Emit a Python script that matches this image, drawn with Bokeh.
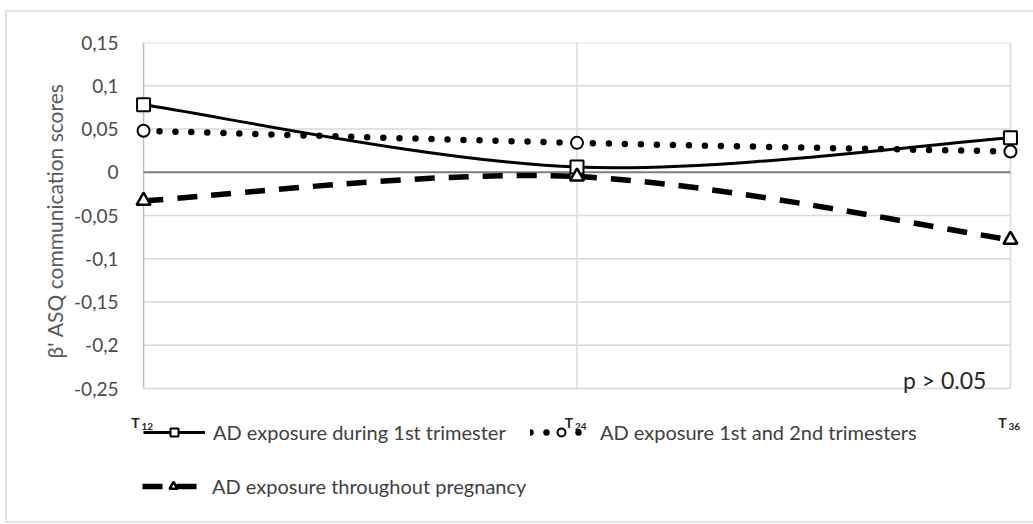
from bokeh.plotting import figure
from bokeh.models import (Range1d, FixedTicker, CustomJSTickFormatter, Label, Title,
                          Legend, LegendItem, InlineStyleSheet)
from bokeh.core.properties import value
from bokeh.embed import file_html
from bokeh.resources import INLINE

# Gestational week at which the ASQ communication score was assessed
weeks = [12, 24, 36]
week_subscripts = ["12", "24", "36"]

# Standardised beta coefficients per exposure window
first_trimester = [0.078, 0.006, 0.040]
first_second_trimesters = [0.048, 0.034, 0.024]
whole_pregnancy = [-0.033, -0.005, -0.078]

y_ticks = [-0.25, -0.2, -0.15, -0.1, -0.05, 0, 0.05, 0.1, 0.15]

FONT = "Lato"
GREY_TXT = "#595959"
GRID = "#d9d9d9"

# Plot box: weeks 12..36 and beta -0.25..0.15; the frame is a little wider and
# runs down to the bottom edge so edge markers and the key are not clipped.
Y_LO, Y_HI = -0.25, 0.15
PX_PER_Y = 346 / (Y_HI - Y_LO)
p = figure(width=1033, height=524, output_backend="svg", toolbar_location=None,
           x_range=Range1d(11.5, 36.5),
           y_range=Range1d(Y_LO - 136 / PX_PER_Y, Y_HI),
           min_border_left=125, min_border_right=5, min_border_top=42,
           min_border_bottom=0)
p.outline_line_color = None
p.xaxis.visible = False
p.xgrid.visible = False
p.ygrid.visible = False

# light chart-area border drawn over the canvas
p.stylesheets = [InlineStyleSheet(css="""
:host { position: relative; }
:host::after {
  content: ""; position: absolute; left: 5px; top: 10px; right: -10px; bottom: 1px;
  border: 2px solid #e4e4e4; pointer-events: none; z-index: 20;
}
""")]

# Y axis
p.yaxis.ticker = FixedTicker(ticks=y_ticks)
p.yaxis.formatter = CustomJSTickFormatter(
    code="return String(Math.round(tick*100)/100).replace('.', ',');")
p.yaxis.axis_line_color = None
p.yaxis.major_tick_line_color = None
p.yaxis.minor_tick_line_color = None
p.yaxis.major_label_text_font = FONT
p.yaxis.major_label_text_font_size = "19px"
p.yaxis.major_label_text_color = "#4a4a4a"
p.yaxis.major_label_standoff = 1

p.add_layout(Title(text="\u03b2' ASQ communication scores", align="left",
                   offset=166, standoff=10, text_font=FONT,
                   text_font_style="normal", text_font_size="21px",
                   text_color=GREY_TXT), "left")

# Grid lines limited to the plot box
x0 = [weeks[0]] * len(y_ticks)
x1 = [weeks[-1]] * len(y_ticks)
p.segment(x0=x0, y0=y_ticks, x1=x1, y1=y_ticks, line_color=GRID, line_width=1.5)
p.segment(x0=weeks[1:], y0=[Y_LO] * 2, x1=weeks[1:], y1=[Y_HI] * 2,
          line_color=GRID, line_width=1.5)
p.segment(x0=[weeks[0]], y0=[Y_LO], x1=[weeks[0]], y1=[Y_HI],
          line_color="#bfbfbf", line_width=1.5)
p.segment(x0=[weeks[0]], y0=[0], x1=[weeks[-1]], y1=[0],
          line_color="#7f7f7f", line_width=2)

# Week labels with subscripts
p.text(x=weeks, y=[Y_LO] * 3, text=["T"] * 3, x_offset=-8, y_offset=34,
       text_font=value(FONT), text_font_style="bold", text_font_size="14px",
       text_color="#262626", text_align="center", text_baseline="alphabetic")
p.text(x=weeks, y=[Y_LO] * 3, text=week_subscripts, x_offset=-2, y_offset=38,
       text_font=value(FONT), text_font_style="bold", text_font_size="10px",
       text_color="#262626", text_align="left", text_baseline="alphabetic")


def smooth_segments(xs, ys):
    """Cubic Bezier pieces through the points (Catmull-Rom tangents)."""
    n = len(xs)
    seg = dict(x0=[], y0=[], x1=[], y1=[], cx0=[], cy0=[], cx1=[], cy1=[])
    for i in range(n - 1):
        a, b = max(i - 1, 0), min(i + 2, n - 1)
        seg["x0"].append(xs[i]); seg["y0"].append(ys[i])
        seg["x1"].append(xs[i + 1]); seg["y1"].append(ys[i + 1])
        seg["cx0"].append(xs[i] + (xs[i + 1] - xs[a]) / 6)
        seg["cy0"].append(ys[i] + (ys[i + 1] - ys[a]) / 6)
        seg["cx1"].append(xs[i + 1] - (xs[b] - xs[i]) / 6)
        seg["cy1"].append(ys[i + 1] - (ys[b] - ys[i]) / 6)
    return seg


# Series
r1l = p.bezier(**smooth_segments(weeks, first_trimester), line_color="black",
               line_width=3)
r1m = p.scatter(weeks, first_trimester, marker="square", size=13,
                fill_color="white", line_color="black", line_width=2)

r2l = p.bezier(**smooth_segments(weeks, first_second_trimesters), line_color="black",
               line_width=6.5, line_dash="0 16", line_cap="round")
r2m = p.scatter(weeks, first_second_trimesters, marker="circle", size=12,
                fill_color="white", line_color="black", line_width=2)

r3l = p.bezier(**smooth_segments(weeks, whole_pregnancy), line_color="black",
               line_width=5.5, line_dash="20 14")
r3m = p.scatter(weeks, whole_pregnancy, marker="triangle", size=14,
                fill_color="white", line_color="black", line_width=2.5)

p.add_layout(Label(x=weeks[-1], y=Y_LO, x_offset=-24, y_offset=-5, text="p > 0.05",
                   text_align="right", text_baseline="bottom", text_font=FONT,
                   text_font_size="23px", text_color="#262626"))


def add_key(label, renderers, x, y):
    leg = Legend(items=[LegendItem(label=label, renderers=renderers)],
                 location=(x, y), padding=0, margin=0, spacing=0,
                 glyph_width=62, glyph_height=20, label_standoff=8,
                 label_height=20, border_line_color=None,
                 background_fill_alpha=0, label_text_font=FONT,
                 label_text_font_size="20px", label_text_color="#404040")
    p.add_layout(leg, "center")


add_key("AD exposure during 1st trimester", [r1l, r1m], 18, 80)
add_key("AD exposure 1st and 2nd trimesters", [r2l, r2m], 405, 80)
add_key("AD exposure throughout pregnancy", [r3l, r3m], 17, 26)

open("out.html", "w").write(file_html(p, INLINE))
